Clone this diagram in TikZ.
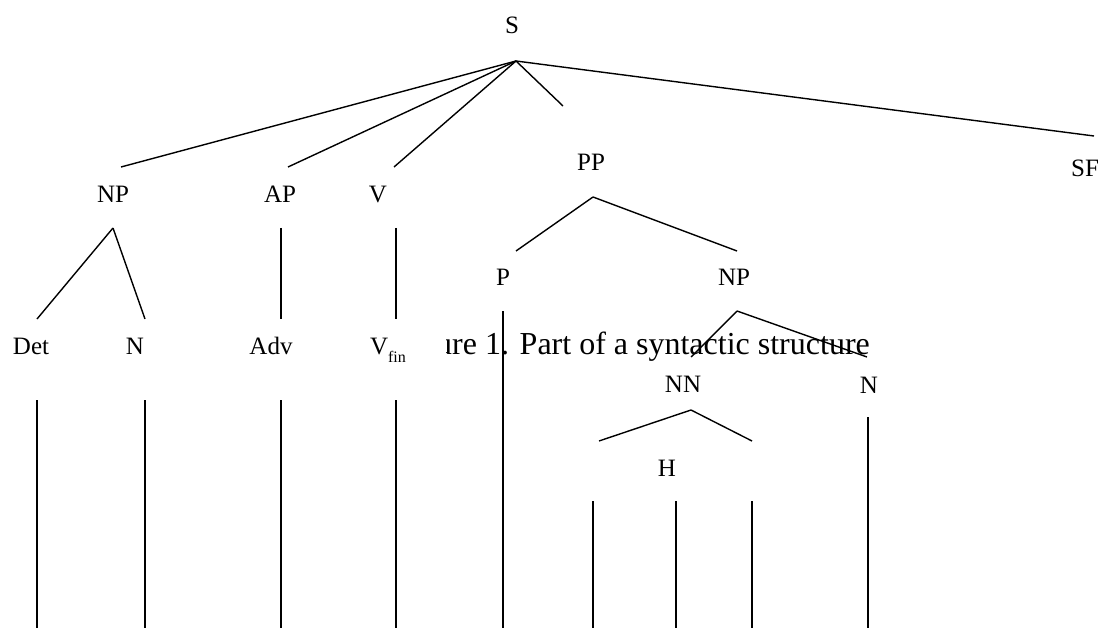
\documentclass[tikz,border=0pt]{standalone}
\usepackage{fontspec}
\setmainfont{Liberation Serif}
\begin{document}
\begin{tikzpicture}[x=1pt,y=-1pt,
  lab/.style={anchor=base,inner sep=0pt,font=\fontsize{25}{30}\selectfont},
  capt/.style={anchor=base west,inner sep=0pt,font=\fontsize{32}{38}\selectfont},
  edge/.style={line width=1.4pt}]
\useasboundingbox (0,0) rectangle (1105,628);

% caption, partly hidden on its left
\begin{scope}
  \clip (446,300) rectangle (1000,380);
  \node[capt] (cap) at (436,354) {ure 1. Part of a syntactic structure};
\end{scope}

% category labels
\node[lab] (S)   at (512,34)  {S};
\node[lab] (NPa) at (113,203) {NP};
\node[lab] (AP)  at (280,203) {AP};
\node[lab] (V)   at (378,203) {V};
\node[lab] (PP)  at (591,171) {PP};
\node[lab] (SF)  at (1085,177) {SF};
\node[lab] (Det) at (31,354)  {Det};
\node[lab] (Na)  at (135,354) {N};
\node[lab] (Adv) at (271,354) {Adv};
\node[lab] (Vf)  at (388,354) {V\raisebox{-8pt}{\fontsize{16}{16}\selectfont fin}};
\node[lab] (P)   at (503,285) {P};
\node[lab] (NPb) at (734,285) {NP};
\node[lab] (NN)  at (683,392) {NN};
\node[lab] (Nb)  at (869,393) {N};
\node[lab] (H)   at (667,476) {H};

% branch points
\coordinate (S-top)   at (516,61);
\coordinate (NPa-in)  at (121,167);
\coordinate (AP-in)   at (288,167);
\coordinate (V-in)    at (394,167);
\coordinate (PP-in)   at (563,106);
\coordinate (SF-in)   at (1094,136);
\coordinate (NPa-out) at (113,228);
\coordinate (Det-in)  at (37,319);
\coordinate (Na-in)   at (145,319);
\coordinate (AP-out)  at (281,228);
\coordinate (Adv-in)  at (281,319);
\coordinate (V-out)   at (396,228);
\coordinate (Vf-in)   at (396,319);
\coordinate (PP-out)  at (593,197);
\coordinate (P-in)    at (516,251);
\coordinate (NPb-in)  at (737,251);
\coordinate (NPb-out) at (737,311);
\coordinate (NN-in)   at (691,357);
\coordinate (Nb-in)   at (867,357);
\coordinate (NN-out)  at (691,410);
\coordinate (H-l)     at (599,441);
\coordinate (H-r)     at (752,441);

% word slots at the bottom
\coordinate (Det-w)  at (37,400);   \coordinate (Det-b)  at (37,628);
\coordinate (Na-w)   at (145,400);  \coordinate (Na-b)   at (145,628);
\coordinate (Adv-w)  at (281,400);  \coordinate (Adv-b)  at (281,628);
\coordinate (Vf-w)   at (396,400);  \coordinate (Vf-b)   at (396,628);
\coordinate (P-w)    at (503,311);  \coordinate (P-b)    at (503,628);
\coordinate (H1-w)   at (593,501);  \coordinate (H1-b)   at (593,628);
\coordinate (H2-w)   at (676,501);  \coordinate (H2-b)   at (676,628);
\coordinate (H3-w)   at (752,501);  \coordinate (H3-b)   at (752,628);
\coordinate (Nb-w)   at (868,417);  \coordinate (Nb-b)   at (868,628);

% tree edges
\draw[edge] (S-top) -- (NPa-in);
\draw[edge] (S-top) -- (AP-in);
\draw[edge] (S-top) -- (V-in);
\draw[edge] (S-top) -- (PP-in);
\draw[edge] (S-top) -- (SF-in);
\draw[edge] (NPa-out) -- (Det-in);
\draw[edge] (NPa-out) -- (Na-in);
\draw[edge] (AP-out) -- (Adv-in);
\draw[edge] (V-out) -- (Vf-in);
\draw[edge] (PP-out) -- (P-in);
\draw[edge] (PP-out) -- (NPb-in);
\draw[edge] (NPb-out) -- (NN-in);
\draw[edge] (NPb-out) -- (Nb-in);
\draw[edge] (NN-out) -- (H-l);
\draw[edge] (NN-out) -- (H-r);

% terminal lines
\draw[edge] (Det-w) -- (Det-b);
\draw[edge] (Na-w) -- (Na-b);
\draw[edge] (Adv-w) -- (Adv-b);
\draw[edge] (Vf-w) -- (Vf-b);
\draw[edge] (P-w) -- (P-b);
\draw[edge] (H1-w) -- (H1-b);
\draw[edge] (H2-w) -- (H2-b);
\draw[edge] (H3-w) -- (H3-b);
\draw[edge] (Nb-w) -- (Nb-b);
\end{tikzpicture}
\end{document}
